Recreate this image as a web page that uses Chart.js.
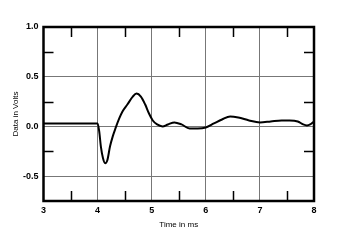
<!DOCTYPE html>
<html>
<head>
<meta charset="utf-8">
<script src="https://cdn.jsdelivr.net/npm/chart.js@4"></script>
<style>
  html, body { margin: 0; padding: 0; background: #fff; }
  #wrap { width: 350px; height: 242px; }
</style>
</head>
<body>
<div id="wrap"><canvas id="impulseChart"></canvas></div>
<script>
// time in ms and response in volts
const timeMs = [3.0, 3.5, 4.0, 4.03, 4.06, 4.1, 4.14, 4.18, 4.23, 4.28, 4.33, 4.4, 4.46, 4.55, 4.65, 4.72, 4.8, 4.88, 4.95, 5.02, 5.1, 5.2, 5.3, 5.42, 5.55, 5.7, 5.85, 6.0, 6.15, 6.3, 6.45, 6.6, 6.8, 7.0, 7.2, 7.4, 7.55, 7.7, 7.8, 7.87, 7.93, 8.0];
const volts = [0.03, 0.03, 0.03, -0.05, -0.2, -0.32, -0.37, -0.34, -0.2, -0.1, -0.02, 0.08, 0.15, 0.22, 0.3, 0.33, 0.3, 0.22, 0.13, 0.06, 0.02, 0.0, 0.02, 0.04, 0.02, -0.02, -0.02, -0.01, 0.03, 0.07, 0.1, 0.09, 0.06, 0.04, 0.05, 0.06, 0.06, 0.05, 0.02, 0.01, 0.02, 0.05];

const xMinorTicks = [3.5, 4.5, 5.5, 6.5, 7.5];
const yMinorTicks = [-0.25, 0.25, 0.75];

const points = timeMs.map((t, i) => ({ x: t, y: volts[i] }));

// inward minor ticks plus the heavy frame
const frameTicks = {
    id: 'frameTicks',
    afterDatasetsDraw(chart) {
        const ctx = chart.ctx;
        const a = chart.chartArea;
        const xs = chart.scales.x, ys = chart.scales.y;
        ctx.save();
        ctx.strokeStyle = '#000';
        ctx.lineWidth = 1.5;
        ctx.beginPath();
        xMinorTicks.forEach(v => {
            const px = Math.round(xs.getPixelForValue(v)) + 0.5;
            ctx.moveTo(px, a.bottom); ctx.lineTo(px, a.bottom - 10);
            ctx.moveTo(px, a.top); ctx.lineTo(px, a.top + 10);
        });
        yMinorTicks.forEach(v => {
            const py = Math.round(ys.getPixelForValue(v)) + 0.5;
            ctx.moveTo(a.left, py); ctx.lineTo(a.left + 10, py);
            ctx.moveTo(a.right, py); ctx.lineTo(a.right - 10, py);
        });
        ctx.stroke();
        ctx.lineWidth = 2.5;
        ctx.strokeRect(a.left, a.top, a.right - a.left, a.bottom - a.top);
        ctx.restore();
    }
};

const ctx = document.getElementById('impulseChart').getContext('2d');
new Chart(ctx, {
    type: 'line',
    data: {
        datasets: [{
            data: points,
            borderColor: '#000',
            borderWidth: 2,
            pointRadius: 0,
            cubicInterpolationMode: 'monotone',
            fill: false
        }]
    },
    options: {
        responsive: true,
        maintainAspectRatio: false,
        animation: false,
        layout: { padding: { left: 11, top: 27, right: 36, bottom: 12 } },
        plugins: { legend: { display: false }, tooltip: { enabled: false } },
        scales: {
            x: {
                type: 'linear',
                min: 3, max: 8,
                ticks: {
                    stepSize: 1,
                    color: '#000',
                    padding: 4,
                    font: { family: 'Liberation Sans', size: 9, weight: 'bold' }
                },
                grid: { color: '#777', lineWidth: 1, drawTicks: false },
                border: { display: false },
                title: {
                    display: true,
                    text: 'Time in ms',
                    color: '#000',
                    padding: { top: 4, bottom: 0 },
                    font: { family: 'Liberation Sans', size: 8 }
                },
                afterFit(scale) { scale.height = 29; }
            },
            y: {
                min: -0.75, max: 1.0,
                ticks: {
                    stepSize: 0.5,
                    color: '#000',
                    padding: 5,
                    font: { family: 'Liberation Sans', size: 9, weight: 'bold' },
                    callback: v => (v === -0.75 ? '' : v.toFixed(1))
                },
                grid: { color: '#777', lineWidth: 1, drawTicks: false },
                border: { display: false },
                title: {
                    display: true,
                    text: 'Data in Volts',
                    color: '#000',
                    padding: { top: 0, bottom: 6 },
                    font: { family: 'Liberation Sans', size: 8 }
                },
                afterFit(scale) { scale.width = 32.5; }
            }
        }
    },
    plugins: [frameTicks]
});
</script>
</body>
</html>
